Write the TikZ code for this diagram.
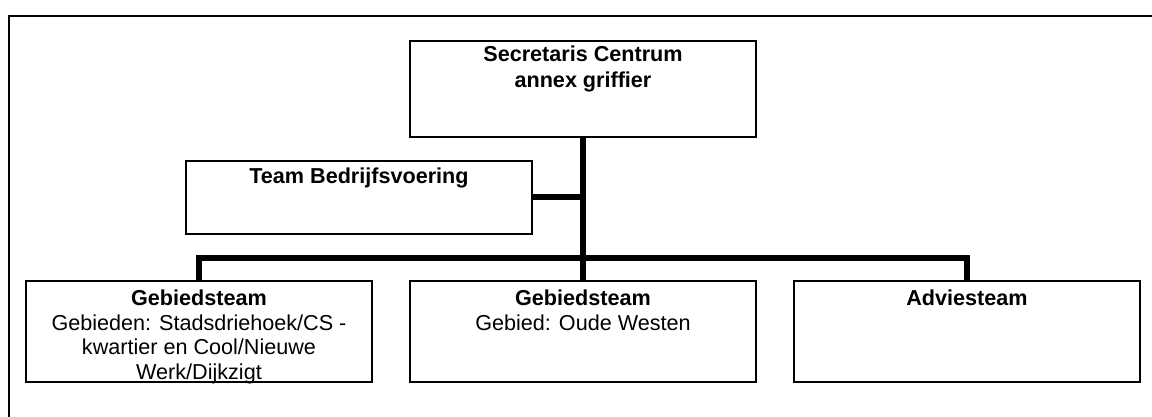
\documentclass[tikz,border=0pt]{standalone}
\usepackage{fontspec}
\setmainfont{Liberation Sans}
\begin{document}
\begin{tikzpicture}[x=1pt,y=-1pt,
  box/.style={draw=black,line width=1.5pt,inner sep=0pt,fill=white},
  lbl/.style={anchor=base,inner sep=0pt,align=center,font=\fontsize{21.6}{24.5}\selectfont},
  conn/.style={draw=black,line width=5.5pt},
  frame/.style={draw=black,line width=2.2pt}]
\useasboundingbox (0,0) rectangle (1152,417);
% frame (top and left edges only)
\coordinate (ftr) at (1152,16);
\coordinate (ftl) at (9,16);
\coordinate (fbl) at (9,417);
\draw[frame] (ftr) -- (ftl) -- (fbl);
% boxes
\node[box,minimum width=346pt,minimum height=96pt] (sec) at (583,89) {};
\node[box,minimum width=346pt,minimum height=73pt] (bed) at (359,197.5) {};
\node[box,minimum width=346pt,minimum height=101pt] (g1) at (199,331.5) {};
\node[box,minimum width=346pt,minimum height=101pt] (g2) at (583,331.5) {};
\node[box,minimum width=346pt,minimum height=101pt] (adv) at (967,331.5) {};
% texts (anchored at baseline of last line)
\node[lbl,font=\fontsize{21.6}{26}\selectfont] (secT) at (583,87.5) {\bfseries Secretaris Centrum\\\bfseries annex griffier};
\node[lbl] (bedT) at (359,183.5) {\bfseries Team Bedrijfsvoering};
\node[lbl] (g1T) at (199,379) {\bfseries Gebiedsteam\\Gebieden: Stadsdriehoek/CS -\\kwartier en Cool/Nieuwe\\Werk/Dijkzigt};
\node[lbl] (g2T) at (583,330) {\bfseries Gebiedsteam\\Gebied: Oude Westen};
\node[lbl] (advT) at (967,305.5) {\bfseries Adviesteam};
% connectors
\coordinate (bus) at (583,258);
\coordinate (busL) at (199,258);
\coordinate (busR) at (967,258);
\coordinate (bedJ) at (583,197);
\draw[conn] (sec.south) -- (bus);
\draw[conn] (bed.east |- bedJ) -- (bedJ);
\draw[conn] (g1.north) -- (busL) -- (busR) -- (adv.north);
\draw[conn] (bus) -- (g2.north);
\end{tikzpicture}
\end{document}
